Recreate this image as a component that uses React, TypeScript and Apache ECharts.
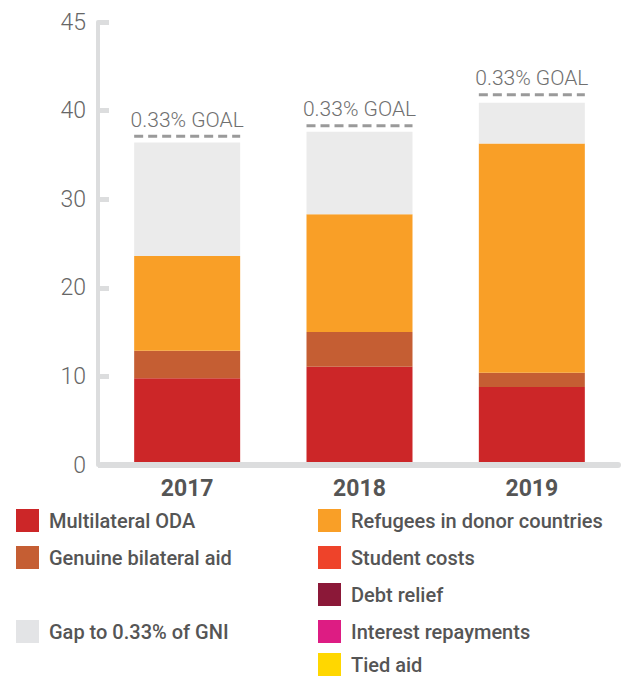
import React, { useEffect, useRef } from "react";
import * as echarts from "echarts";

const years = ["2017", "2018", "2019"];
const multilateral = [9.8, 11.1, 8.8];
const bilateral = [3.1, 3.9, 1.6];
const refugees = [10.7, 13.3, 25.9];
const studentCosts = [0, 0, 0];
const debtRelief = [0, 0, 0];
const interest = [0, 0, 0];
const tiedAid = [0, 0, 0];
const gap = [12.8, 9.3, 4.6];
const goal = [37.1, 38.3, 41.8];
const yTickLabels: Record<number, string> = { 0: "0", 10: "10", 20: "20", 30: "30", 40: "40", 50: "45" };

const BAR_W = 106;
const FONT = "Roboto, 'Noto Sans', sans-serif";

export default function App() {
  const ref = useRef<HTMLDivElement>(null);
  useEffect(() => {
    const chart = echarts.init(ref.current!, undefined, { renderer: "svg" });
    const barSeries = (name: string, data: number[], color: string) => ({
      name,
      type: "bar",
      stack: "total",
      data,
      barWidth: BAR_W,
      itemStyle: { color },
      emphasis: { disabled: true },
    });
    const legendBase = {
      orient: "vertical",
      icon: "rect",
      itemWidth: 23,
      itemHeight: 23,
      itemGap: 14,
      padding: 0,
      selectedMode: false,
      textStyle: {
        fontFamily: FONT,
        fontWeight: 500,
        fontSize: 20,
        color: "#555555",
        padding: [0, 0, 0, 5],
      },
    };
    chart.setOption({
      animation: false,
      grid: { left: 101, right: 3, top: 22, bottom: 212 },
      legend: [
        { ...legendBase, left: 16, top: 509, data: ["Multilateral ODA", "Genuine bilateral aid"] },
        { ...legendBase, left: 16, top: 620, data: [{ name: "Gap to 0.33% of GNI", itemStyle: { color: "#e3e4e6" } }] },
        {
          ...legendBase,
          left: 318,
          top: 509,
          data: ["Refugees in donor countries", "Student costs", "Debt relief", "Interest repayments"],
        },
        { ...legendBase, left: 318, top: 653, data: ["Tied aid"] },
      ],
      xAxis: {
        type: "category",
        data: years,
        z: 10,
        axisLine: { lineStyle: { color: "#dcddde", width: 6 } },
        axisTick: { inside: true, length: 12, lineStyle: { color: "#dcddde", width: 5 } },
        axisLabel: {
          margin: 12,
          fontFamily: FONT,
          fontWeight: "bold",
          fontSize: 23,
          color: "#555555",
        },
      },
      yAxis: {
        type: "value",
        min: 0,
        max: 50,
        interval: 10,
        offset: 3,
        splitLine: { show: false },
        axisLine: { show: true, lineStyle: { color: "#dcddde", width: 4 } },
        axisTick: { show: true, inside: true, length: 11, lineStyle: { color: "#dcddde", width: 5 } },
        axisLabel: {
          margin: 12,
          fontFamily: FONT,
          fontWeight: 300,
          fontSize: 23,
          color: "#666666",
          formatter: (v: number) => yTickLabels[v] ?? String(v),
        },
      },
      series: [
        barSeries("Multilateral ODA", multilateral, "#cc2628"),
        barSeries("Genuine bilateral aid", bilateral, "#c55e33"),
        barSeries("Refugees in donor countries", refugees, "#f99f27"),
        barSeries("Student costs", studentCosts, "#ee432a"),
        barSeries("Debt relief", debtRelief, "#8b1838"),
        barSeries("Interest repayments", interest, "#dd1c83"),
        barSeries("Tied aid", tiedAid, "#ffd700"),
        barSeries("Gap to 0.33% of GNI", gap, "#ebebeb"),
        {
          type: "custom",
          name: "goal",
          data: goal.map((g, i) => [i, g]),
          z: 5,
          renderItem: (_params: any, api: any) => {
            const pt = api.coord([api.value(0), api.value(1)]);
            return {
              type: "group",
              children: [
                {
                  type: "line",
                  shape: { x1: pt[0] - BAR_W / 2, y1: pt[1], x2: pt[0] + BAR_W / 2, y2: pt[1] },
                  style: { stroke: "#9a9a9a", lineWidth: 3, lineDash: [9, 5] },
                },
                {
                  type: "text",
                  x: pt[0],
                  y: pt[1] - 6,
                  style: {
                    text: "0.33% GOAL",
                    fill: "#707070",
                    font: `300 21px ${FONT}`,
                    textAlign: "center",
                    textVerticalAlign: "bottom",
                  },
                },
              ],
            };
          },
        },
      ],
    });
    return () => chart.dispose();
  }, []);
  return <div ref={ref} style={{ width: 621, height: 677, position: "absolute", left: 0, top: 0 }} />;
}
